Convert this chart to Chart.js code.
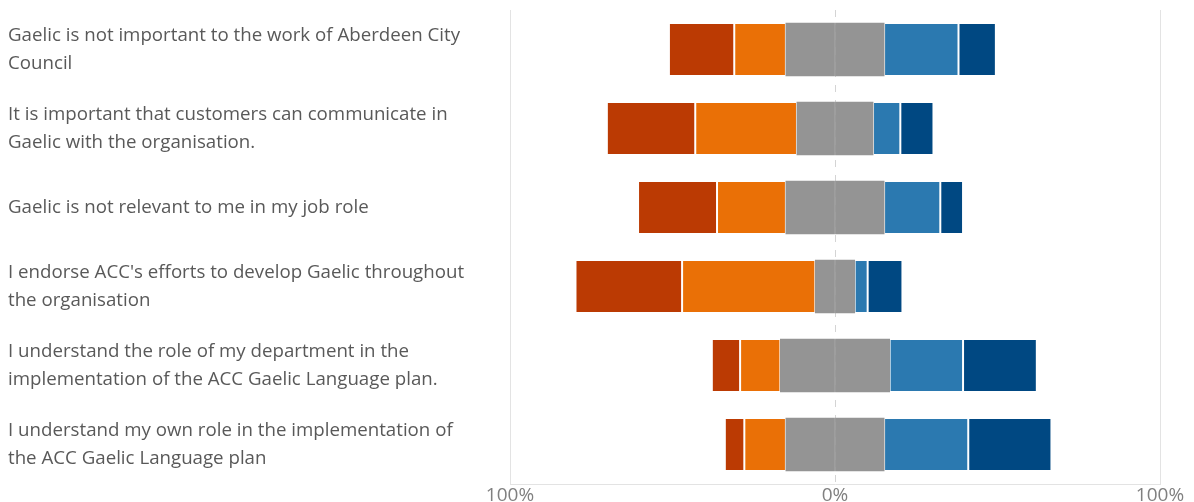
<!DOCTYPE html>
<html>
<head>
<meta charset="utf-8">
<script src="https://cdn.jsdelivr.net/npm/chart.js@4/dist/chart.umd.min.js"></script>
<style>
    html, body { margin: 0; padding: 0; background: #fff; overflow: hidden; }
    .wrap { width: 1194px; height: 510px; position: relative; }
</style>
</head>
<body>
<div class="wrap"><canvas id="likertChart"></canvas></div>
<script>
// Afirmações (categorias)
const statements = [
    ['Gaelic is not important to the work of Aberdeen City', 'Council'],
    ['It is important that customers can communicate in', 'Gaelic with the organisation.'],
    'Gaelic is not relevant to me in my job role',
    ["I endorse ACC's efforts to develop Gaelic throughout", 'the organisation'],
    ['I understand the role of my department in the', 'implementation of the ACC Gaelic Language plan.'],
    ['I understand my own role in the implementation of', 'the ACC Gaelic Language plan']
];

// Percentagens por resposta
const stronglyDisagree = [20.1, 27.2, 24.3, 32.8, 8.7, 6.0];
const disagree         = [15.9, 31.3, 21.2, 41.0, 12.4, 12.8];
const neutral          = [30.2, 23.4, 30.2, 12.1, 33.6, 30.2];
const agree            = [22.9, 8.4, 17.3, 4.0, 22.6, 25.9];
const stronglyAgree    = [11.5, 10.2, 7.0, 10.7, 22.7, 25.6];

const axisTicks = [-100, 0, 100];

document.addEventListener('DOMContentLoaded', function() {

    const neg = arr => arr.map(v => -v);
    const half = arr => arr.map(v => v / 2);
    const edge = 'rgba(255,255,255,0.18)';

    // neutro dividido ao meio, centrado no 0 (sem borda e ligeiramente inflado para não marcar o meio)
    const data = {
        labels: statements,
        datasets: [
            { label: 'Neither', data: neg(half(neutral)), backgroundColor: '#949494', borderWidth: 0, inflateAmount: 0.4 },
            { label: 'Disagree', data: neg(disagree), backgroundColor: '#EA7006' },
            { label: 'Strongly disagree', data: neg(stronglyDisagree), backgroundColor: '#BB3A03' },
            { label: 'Neither ', data: half(neutral), backgroundColor: '#949494', borderWidth: 0, inflateAmount: 0.4 },
            { label: 'Agree', data: agree, backgroundColor: '#2B79B0' },
            { label: 'Strongly agree', data: stronglyAgree, backgroundColor: '#004882' }
        ]
    };
    data.datasets.forEach(ds => {
        ds.borderColor = edge;
        if (ds.borderWidth === undefined) ds.borderWidth = 1;
        ds.borderSkipped = false;
        ds.barPercentage = 0.67;
        ds.categoryPercentage = 1;
    });

    const config = {
        type: 'bar',
        data: data,
        options: {
            indexAxis: 'y',
            responsive: true,
            maintainAspectRatio: false,
            animation: false,
            layout: { padding: { left: 8, top: 10, right: 34, bottom: 0 } },
            plugins: {
                legend: { display: false },
                tooltip: { enabled: false }
            },
            scales: {
                x: {
                    stacked: true,
                    min: -100,
                    max: 100,
                    afterBuildTicks: scale => { scale.ticks = axisTicks.map(v => ({ value: v })); },
                    afterFit: scale => { scale.height = 26; },
                    ticks: {
                        padding: 0,
                        color: '#808080',
                        font: { family: 'Open Sans', size: 19 },
                        callback: v => Math.abs(v) + '%'
                    },
                    grid: {
                        drawTicks: false,
                        color: ctx => (ctx.tick && ctx.tick.value === 0) ? '#d4d4d4' : '#e3e3e3',
                        lineWidth: 1
                    },
                    border: {
                        display: true,
                        color: '#e3e3e3',
                        dash: ctx => (ctx.tick && ctx.tick.value === 0) ? [7, 8] : []
                    }
                },
                y: {
                    stacked: true,
                    afterFit: scale => {
                        scale.width = 502;
                        scale.paddingTop = 0;
                        scale.paddingBottom = 0;
                    },
                    grid: { display: false },
                    border: { display: false },
                    ticks: {
                        crossAlign: 'far',
                        color: '#595959',
                        font: { family: 'Open Sans', size: 18.7, lineHeight: 1.47 }
                    }
                }
            }
        }
    };

    new Chart(document.getElementById('likertChart').getContext('2d'), config);
});
</script>
</body>
</html>
